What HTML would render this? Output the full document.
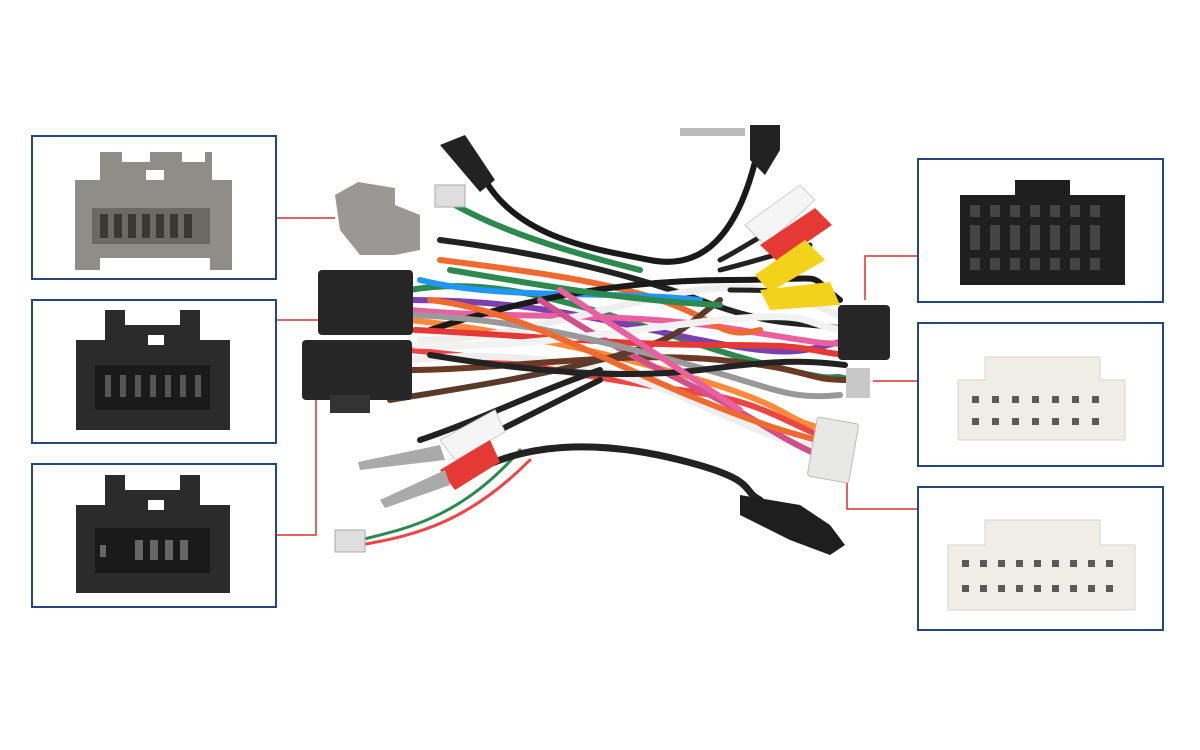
<!DOCTYPE html>
<html><head><meta charset="utf-8"><style>
html,body{margin:0;padding:0;background:#fff;}
body{width:1200px;height:750px;position:relative;overflow:hidden;font-family:"Liberation Sans",sans-serif;}
.box{position:absolute;width:243px;height:141px;border:2px solid #23467f;box-sizing:border-box;background:#fff;}
svg{position:absolute;left:0;top:0;}
</style></head><body>
<div class="box" style="left:31px;top:135px;width:246px;height:145px"></div>
<div class="box" style="left:31px;top:299px;width:246px;height:145px"></div>
<div class="box" style="left:31px;top:463px;width:246px;height:145px"></div>
<div class="box" style="left:917px;top:158px;width:247px;height:145px"></div>
<div class="box" style="left:917px;top:322px;width:247px;height:145px"></div>
<div class="box" style="left:917px;top:486px;width:247px;height:145px"></div>
<svg width="1200" height="750" viewBox="0 0 1200 750">
<g stroke="#d9302c" stroke-width="1.5" fill="none">
<path d="M277 218H335"/><path d="M277 320H318"/><path d="M277 535H316V388H330"/>
<path d="M917 256H865V300"/><path d="M917 381H873"/><path d="M917 509H847V465"/>
</g>
<g>
<path d="M75 180H100V152H122V162H150V152H182V162H205V152H212V180H232V270H210V258H100V270H75Z" fill="#8f8d88"/>
<rect x="92" y="208" width="118" height="36" fill="#6b6964"/>
<g fill="#3a3835"><rect x="100" y="214" width="8" height="24"/><rect x="114" y="214" width="8" height="24"/><rect x="128" y="214" width="8" height="24"/><rect x="142" y="214" width="8" height="24"/><rect x="156" y="214" width="8" height="24"/><rect x="170" y="214" width="8" height="24"/><rect x="184" y="214" width="8" height="24"/></g>
<rect x="146" y="170" width="18" height="10" fill="#fff"/>
<path d="M76 340H105V310H125V325H180V310H200V340H230V430H76Z" fill="#2b2b2b"/>
<rect x="95" y="365" width="115" height="45" fill="#1a1a1a"/>
<g fill="#555"><rect x="105" y="375" width="6" height="22"/><rect x="120" y="375" width="6" height="22"/><rect x="135" y="375" width="6" height="22"/><rect x="150" y="375" width="6" height="22"/><rect x="165" y="375" width="6" height="22"/><rect x="180" y="375" width="6" height="22"/><rect x="195" y="375" width="6" height="22"/></g>
<rect x="148" y="335" width="16" height="10" fill="#fff"/>
<path d="M76 505H105V475H125V490H180V475H200V505H230V593H76Z" fill="#2b2b2b"/>
<rect x="95" y="528" width="115" height="45" fill="#1a1a1a"/>
<g fill="#666"><rect x="135" y="540" width="8" height="20"/><rect x="150" y="540" width="8" height="20"/><rect x="165" y="540" width="8" height="20"/><rect x="180" y="540" width="8" height="20"/><rect x="100" y="545" width="6" height="12"/></g>
<rect x="148" y="500" width="16" height="10" fill="#fff"/>
</g>
<g>
<path d="M960 195H1015V180H1070V195H1125V285H960Z" fill="#1f1f1f"/>
<g fill="#444">
<rect x="970" y="205" width="10" height="12"/><rect x="990" y="205" width="10" height="12"/><rect x="1010" y="205" width="10" height="12"/><rect x="1030" y="205" width="10" height="12"/><rect x="1050" y="205" width="10" height="12"/><rect x="1070" y="205" width="10" height="12"/><rect x="1090" y="205" width="10" height="12"/>
<rect x="970" y="225" width="10" height="25"/><rect x="990" y="225" width="10" height="25"/><rect x="1010" y="225" width="10" height="25"/><rect x="1030" y="225" width="10" height="25"/><rect x="1050" y="225" width="10" height="25"/><rect x="1070" y="225" width="10" height="25"/><rect x="1090" y="225" width="10" height="25"/>
<rect x="970" y="258" width="10" height="12"/><rect x="990" y="258" width="10" height="12"/><rect x="1010" y="258" width="10" height="12"/><rect x="1030" y="258" width="10" height="12"/><rect x="1050" y="258" width="10" height="12"/><rect x="1070" y="258" width="10" height="12"/><rect x="1090" y="258" width="10" height="12"/>
</g>
<path d="M958 380H985V357H1100V380H1125V440H958Z" fill="#efede6" stroke="#d8d5cc"/>
<g fill="#5a5a5a"><rect x="972" y="396" width="7" height="7"/><rect x="992" y="396" width="7" height="7"/><rect x="1012" y="396" width="7" height="7"/><rect x="1032" y="396" width="7" height="7"/><rect x="1052" y="396" width="7" height="7"/><rect x="1072" y="396" width="7" height="7"/><rect x="1092" y="396" width="7" height="7"/>
<rect x="972" y="418" width="7" height="7"/><rect x="992" y="418" width="7" height="7"/><rect x="1012" y="418" width="7" height="7"/><rect x="1032" y="418" width="7" height="7"/><rect x="1052" y="418" width="7" height="7"/><rect x="1072" y="418" width="7" height="7"/><rect x="1092" y="418" width="7" height="7"/></g>
<path d="M948 545H985V520H1100V545H1135V610H948Z" fill="#efede6" stroke="#d8d5cc"/>
<g fill="#5a5a5a"><rect x="962" y="560" width="7" height="7"/><rect x="980" y="560" width="7" height="7"/><rect x="998" y="560" width="7" height="7"/><rect x="1016" y="560" width="7" height="7"/><rect x="1034" y="560" width="7" height="7"/><rect x="1052" y="560" width="7" height="7"/><rect x="1070" y="560" width="7" height="7"/><rect x="1088" y="560" width="7" height="7"/><rect x="1106" y="560" width="7" height="7"/>
<rect x="962" y="585" width="7" height="7"/><rect x="980" y="585" width="7" height="7"/><rect x="998" y="585" width="7" height="7"/><rect x="1016" y="585" width="7" height="7"/><rect x="1034" y="585" width="7" height="7"/><rect x="1052" y="585" width="7" height="7"/><rect x="1070" y="585" width="7" height="7"/><rect x="1088" y="585" width="7" height="7"/><rect x="1106" y="585" width="7" height="7"/></g>
</g>
<g fill="none" stroke-width="6" stroke-linecap="round">
<path d="M485 180C520 240 600 250 650 260S740 240 760 140" stroke="#1a1a1a" stroke-width="6"/>
<path d="M455 205C500 230 560 250 640 270" stroke="#2c8a4f"/>
<path d="M440 240C520 250 620 270 700 300S800 320 850 330" stroke="#222"/>
<path d="M410 290C520 270 640 330 750 360S820 370 850 380" stroke="#2c8a4f"/>
<path d="M410 300C530 300 600 320 700 340S800 350 850 340" stroke="#7a3fb0"/>
<path d="M410 310C520 320 620 310 740 330S810 340 850 345" stroke="#ea5fa0"/>
<path d="M410 320C500 330 600 350 700 380S780 420 830 430" stroke="#ff8a3a"/>
<path d="M410 350C520 360 600 380 680 390S780 420 830 440" stroke="#e44"/>
<path d="M410 360C500 350 600 360 690 400S780 440 825 450" stroke="#eee" stroke-width="7"/>
<path d="M410 370C500 370 620 350 720 360S800 380 850 380" stroke="#6b3a25"/>
<path d="M420 340C520 340 620 300 700 290S800 300 850 320" stroke="#eee" stroke-width="7"/>
<path d="M440 260C520 270 600 280 660 300S720 340 760 330" stroke="#f06a30"/>
<path d="M420 280C500 300 600 290 700 300" stroke="#2196f3"/>
<path d="M430 330C520 300 620 280 730 280S800 270 840 300" stroke="#1a1a1a" stroke-width="6"/>
<path d="M540 300C600 340 640 360 700 390S780 440 830 460" stroke="#d0508a"/>
<path d="M390 400C450 390 520 380 600 360S680 330 720 300" stroke="#5a3a2a"/>
<path d="M420 440C480 420 540 390 600 370" stroke="#222" stroke-width="6"/>
<path d="M460 450C520 420 560 400 600 380" stroke="#222" stroke-width="6"/>
<path d="M415 330C520 335 620 345 720 345S800 350 845 355" stroke="#e53935"/>
<path d="M415 345C520 350 620 330 720 320S800 325 845 330" stroke="#f2f2f2" stroke-width="7"/>
<path d="M415 315C520 320 600 340 690 365S790 400 840 395" stroke="#999"/>
<path d="M450 270C540 285 620 300 720 305" stroke="#2c8a4f"/>
<path d="M430 300C520 310 600 360 700 400S790 430 830 445" stroke="#f06a30"/>
<path d="M430 355C520 370 620 380 700 370S800 360 845 365" stroke="#222"/>
<path d="M560 290C620 330 680 370 740 410" stroke="#ea5fa0"/>
<path d="M360 540C400 530 460 520 520 450" stroke="#2c8a4f" stroke-width="3"/>
<path d="M360 545C420 535 470 520 530 460" stroke="#e44" stroke-width="3"/>
<path d="M460 480C520 440 600 440 680 460S740 490 760 500" stroke="#222" stroke-width="7"/>
<path d="M720 260C740 250 770 230 790 220" stroke="#222" stroke-width="5"/>
<path d="M720 270C760 260 790 250 810 245" stroke="#222" stroke-width="5"/>
<path d="M730 290C770 290 800 292 830 293" stroke="#222" stroke-width="5"/>
</g>
<path d="M335 195L358 182L395 188V205L420 215V250L395 255H360L340 230Z" fill="#9a9894"/>
<rect x="318" y="270" width="95" height="65" rx="4" fill="#262626"/>
<rect x="302" y="340" width="110" height="60" rx="4" fill="#262626"/>
<rect x="330" y="395" width="40" height="18" fill="#333"/>
<rect x="838" y="305" width="52" height="55" rx="4" fill="#262626"/>
<rect x="846" y="368" width="24" height="30" fill="#c8c8c8"/>
<rect x="812" y="420" width="42" height="60" rx="3" fill="#e8e8e6" stroke="#bbb" transform="rotate(10 833 450)"/>
<rect x="335" y="530" width="30" height="22" fill="#dedede" stroke="#aaa"/>
<rect x="435" y="185" width="30" height="22" fill="#dedede" stroke="#aaa"/>
<path d="M440 145L465 135L495 180L480 192Z" fill="#222"/>
<rect x="680" y="128" width="65" height="8" fill="#bbb"/>
<path d="M750 125H780V150L765 175L750 160Z" fill="#222"/>
<path d="M745 225L800 185L815 200L765 245Z" fill="#f5f5f5" stroke="#ccc"/>
<path d="M760 245L815 208L832 225L778 262Z" fill="#e53935"/>
<path d="M755 275L805 240L825 260L770 292Z" fill="#f2d21b"/>
<path d="M760 290L830 282L840 305L770 310Z" fill="#f2d21b"/>
<path d="M440 440L495 410L505 432L455 460Z" fill="#f5f5f5" stroke="#ccc"/>
<path d="M440 470L490 440L500 462L455 490Z" fill="#e53935"/>
<path d="M358 462L440 445L445 460L360 470Z" fill="#aaa"/>
<path d="M380 500L445 470L450 485L385 508Z" fill="#aaa"/>
<path d="M740 495L800 505L830 525L845 545L830 555L790 540L740 515Z" fill="#1e1e1e"/>
</svg>
</body></html>
